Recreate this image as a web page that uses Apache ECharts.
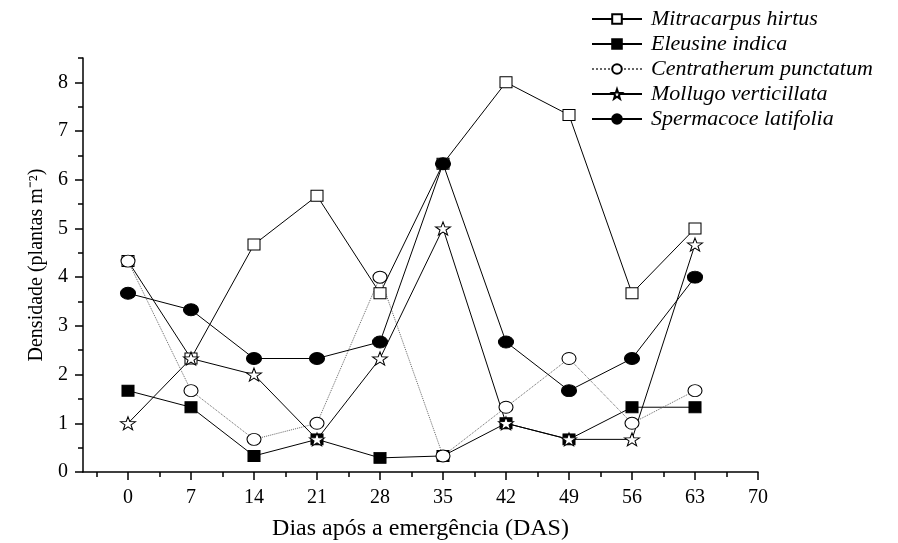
<!DOCTYPE html>
<html>
<head>
<meta charset="utf-8">
<script src="https://cdn.jsdelivr.net/npm/echarts@6/dist/echarts.min.js"></script>
<style>
html,body{margin:0;padding:0;background:#fff;}
#chart{width:898px;height:543px;}
</style>
</head>
<body>
<div id="chart"></div>
<script>
// Days after emergence
const days = [0, 7, 14, 21, 28, 35, 42, 49, 56, 63];
const xTickLabels = [0, 7, 14, 21, 28, 35, 42, 49, 56, 63, 70];
const yTickLabels = [0, 1, 2, 3, 4, 5, 6, 7, 8];

const seriesNames = ['Mitracarpus hirtus', 'Eleusine indica', 'Centratherum punctatum', 'Mollugo verticillata', 'Spermacoce latifolia'];

const mitracarpus  = [4.33, 2.33, 4.67, 5.67, 3.67, 6.33, 8.00, 7.33, 3.67, 5.00];
const eleusine     = [1.67, 1.33, 0.33, 0.67, 0.29, 0.33, 1.00, 0.67, 1.33, 1.33];
const centratherum = [4.33, 1.67, 0.67, 1.00, 4.00, 0.33, 1.33, 2.33, 1.00, 1.67];
const mollugo      = [1.00, 2.33, 2.00, 0.67, 2.33, 5.00, 1.00, 0.67, 0.67, 4.67];
const spermacoce   = [3.67, 3.33, 2.33, 2.33, 2.67, 6.33, 2.67, 1.67, 2.33, 4.00];

const xMinorTicks = [-3.5, 3.5, 10.5, 17.5, 24.5, 31.5, 38.5, 45.5, 52.5, 59.5, 66.5];
const yMinorTicks = [0.5, 1.5, 2.5, 3.5, 4.5, 5.5, 6.5, 7.5, 8.5];

const FONT = '"Liberation Serif", "Times New Roman", serif';
const STAR = 'path://M50 0 L61.76 33.82 L97.55 34.55 L69.02 56.18 L79.39 90.45 L50 70 L20.61 90.45 L30.98 56.18 L2.45 34.55 L38.24 33.82 Z';

function pairs(vals) { return days.map((d, i) => [d, vals[i]]); }

const chart = echarts.init(document.getElementById('chart'), null, {renderer: 'canvas'});

const axisLineStyle = {color: '#000', width: 1.5};

const option = {
  backgroundColor: '#fff',
  animation: false,
  textStyle: {fontFamily: FONT, color: '#000'},
  grid: {left: 83, right: 140, top: 58, bottom: 71, containLabel: false, outerBoundsMode: 'none'},
  legend: {
    orient: 'vertical',
    left: 591,
    top: 8,
    padding: 0,
    itemWidth: 50,
    itemHeight: 12,
    itemGap: 3,
    data: seriesNames,
    textStyle: {fontFamily: FONT, fontStyle: 'italic', fontSize: 22, lineHeight: 20, color: '#000', padding: [0, 0, 0, 4]}
  },
  xAxis: [{
    type: 'value', min: -5, max: 70,
    axisLine: {show: true, onZero: false, lineStyle: axisLineStyle},
    axisTick: {show: true, length: 8, lineStyle: {color: '#000', width: 1.5}, customValues: xTickLabels},
    axisLabel: {color: '#000', fontFamily: FONT, fontSize: 20, margin: 16, customValues: xTickLabels},
    splitLine: {show: false},
    name: 'Dias após a emergência (DAS)', nameLocation: 'middle', nameGap: 45,
    nameTextStyle: {fontFamily: FONT, fontSize: 24, color: '#000'}
  }, {
    type: 'value', min: -5, max: 70, position: 'bottom',
    axisLine: {show: false, onZero: false},
    axisTick: {show: true, length: 5, lineStyle: {color: '#000', width: 1.5}, customValues: xMinorTicks},
    axisLabel: {show: false},
    splitLine: {show: false}
  }],
  yAxis: [{
    type: 'value', min: 0, max: 8.5,
    axisLine: {show: true, onZero: false, lineStyle: axisLineStyle},
    axisTick: {show: true, length: 8, lineStyle: {color: '#000', width: 1.5}, customValues: yTickLabels},
    axisLabel: {color: '#000', fontFamily: FONT, fontSize: 20, margin: 15, customValues: yTickLabels},
    splitLine: {show: false},
    name: 'Densidade (plantas m\u207B\u00B2)', nameLocation: 'middle', nameGap: 36,
    nameTextStyle: {fontFamily: FONT, fontSize: 20, color: '#000'}
  }, {
    type: 'value', min: 0, max: 8.5, position: 'left',
    axisLine: {show: false, onZero: false},
    axisTick: {show: true, length: 5, lineStyle: {color: '#000', width: 1.5}, customValues: yMinorTicks},
    axisLabel: {show: false},
    splitLine: {show: false}
  }],
  series: [
    {
      name: seriesNames[0], type: 'line', data: pairs(mitracarpus),
      symbol: 'rect', symbolSize: [12, 11],
      lineStyle: {color: '#000', width: 1},
      itemStyle: {color: '#fff', borderColor: '#000', borderWidth: 1}
    },
    {
      name: seriesNames[1], type: 'line', data: pairs(eleusine),
      symbol: 'rect', symbolSize: [12, 11],
      lineStyle: {color: '#000', width: 1},
      itemStyle: {color: '#000', borderColor: '#000', borderWidth: 1}
    },
    {
      name: seriesNames[2], type: 'line', data: pairs(centratherum),
      symbol: 'circle', symbolSize: [14, 12],
      lineStyle: {color: '#666', width: 1, type: 'dotted'},
      itemStyle: {color: '#fff', borderColor: '#000', borderWidth: 1}
    },
    {
      name: seriesNames[3], type: 'line', data: pairs(mollugo),
      symbol: STAR, symbolSize: [15, 13],
      lineStyle: {color: '#000', width: 1},
      itemStyle: {color: '#fff', borderColor: '#000', borderWidth: 1}
    },
    {
      name: seriesNames[4], type: 'line', data: pairs(spermacoce),
      symbol: 'circle', symbolSize: [15, 12],
      lineStyle: {color: '#000', width: 1},
      itemStyle: {color: '#000', borderColor: '#000', borderWidth: 1}
    }
  ]
};

chart.setOption(option);
</script>
</body>
</html>
